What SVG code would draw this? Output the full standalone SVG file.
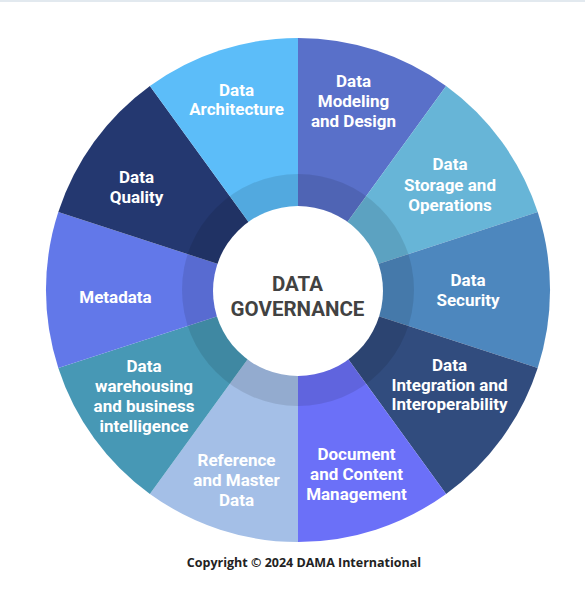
<svg xmlns="http://www.w3.org/2000/svg" width="585" height="599" viewBox="0 0 585 599">
<style>
.lbl{font-family:Roboto,"Liberation Sans",sans-serif;font-weight:700;font-size:17px;fill:#ffffff;text-anchor:middle}
.ctr{font-family:Roboto,"Liberation Sans",sans-serif;font-weight:700;font-size:20.5px;fill:#424242;text-anchor:middle}
.cp{font-family:"Open Sans","Liberation Sans",sans-serif;font-weight:700;font-size:12.5px;fill:#222222;text-anchor:middle}
</style>
<rect x="0" y="0" width="585" height="599" fill="#ffffff"/>
<rect x="0" y="0" width="585" height="2" fill="#e2e9ef"/>
<g id="data-modeling">
<path d="M298,290 L298,38 A252,252 0 0 1 446.1,86.1 Z" fill="#5970c9"/>
<text class="lbl" x="353.5" y="86.5">Data</text>
<text class="lbl" x="353.5" y="106.5">Modeling</text>
<text class="lbl" x="353.5" y="126.5">and Design</text>
</g>
<g id="data-storage">
<path d="M298,290 L446.1,86.1 A252,252 0 0 1 537.7,212.1 Z" fill="#67b5d7"/>
<text class="lbl" x="450" y="170">Data</text>
<text class="lbl" x="450" y="190.5">Storage and</text>
<text class="lbl" x="450" y="210.5">Operations</text>
</g>
<g id="data-security">
<path d="M298,290 L537.7,212.1 A252,252 0 0 1 537.7,367.9 Z" fill="#4d87be"/>
<text class="lbl" x="468" y="286">Data</text>
<text class="lbl" x="468" y="306">Security</text>
</g>
<g id="data-integration">
<path d="M298,290 L537.7,367.9 A252,252 0 0 1 446.1,493.9 Z" fill="#314c7e"/>
<text class="lbl" x="449.5" y="370.5">Data</text>
<text class="lbl" x="449.5" y="390.5">Integration and</text>
<text class="lbl" x="449.5" y="410">Interoperability</text>
</g>
<g id="document-content">
<path d="M298,290 L446.1,493.9 A252,252 0 0 1 298,542 Z" fill="#6b70f8"/>
<text class="lbl" x="356.5" y="459.5">Document</text>
<text class="lbl" x="356.5" y="479.5">and Content</text>
<text class="lbl" x="356.5" y="499.5">Management</text>
</g>
<g id="reference-master">
<path d="M298,290 L298,542 A252,252 0 0 1 149.9,493.9 Z" fill="#a4bfe7"/>
<text class="lbl" x="236.5" y="465.5">Reference</text>
<text class="lbl" x="236.5" y="485.5">and Master</text>
<text class="lbl" x="236.5" y="506">Data</text>
</g>
<g id="data-warehousing">
<path d="M298,290 L149.9,493.9 A252,252 0 0 1 58.3,367.9 Z" fill="#4798b5"/>
<text class="lbl" x="144" y="372">Data</text>
<text class="lbl" x="144" y="392">warehousing</text>
<text class="lbl" x="144" y="411.5">and business</text>
<text class="lbl" x="144" y="431.5">intelligence</text>
</g>
<g id="metadata">
<path d="M298,290 L58.3,367.9 A252,252 0 0 1 58.3,212.1 Z" fill="#6278e9"/>
<text class="lbl" x="115.5" y="303">Metadata</text>
</g>
<g id="data-quality">
<path d="M298,290 L58.3,212.1 A252,252 0 0 1 149.9,86.1 Z" fill="#243870"/>
<text class="lbl" x="136.5" y="182.5">Data</text>
<text class="lbl" x="136.5" y="203">Quality</text>
</g>
<g id="data-architecture">
<path d="M298,290 L149.9,86.1 A252,252 0 0 1 298,38 Z" fill="#5cbdf9"/>
<text class="lbl" x="236.5" y="95.5">Data</text>
<text class="lbl" x="236.5" y="115">Architecture</text>
</g>
<g id="inner-band">
<circle cx="298" cy="290" r="116" fill="#000000" fill-opacity="0.1"/>
</g>
<g id="data-governance">
<circle cx="298" cy="291" r="85" fill="#ffffff"/>
<text class="ctr" x="297.5" y="291">DATA</text>
<text class="ctr" x="297.5" y="316">GOVERNANCE</text>
</g>
<g id="connectors"></g>
<text class="cp" x="304" y="566.5">Copyright © 2024 DAMA International</text>
</svg>
